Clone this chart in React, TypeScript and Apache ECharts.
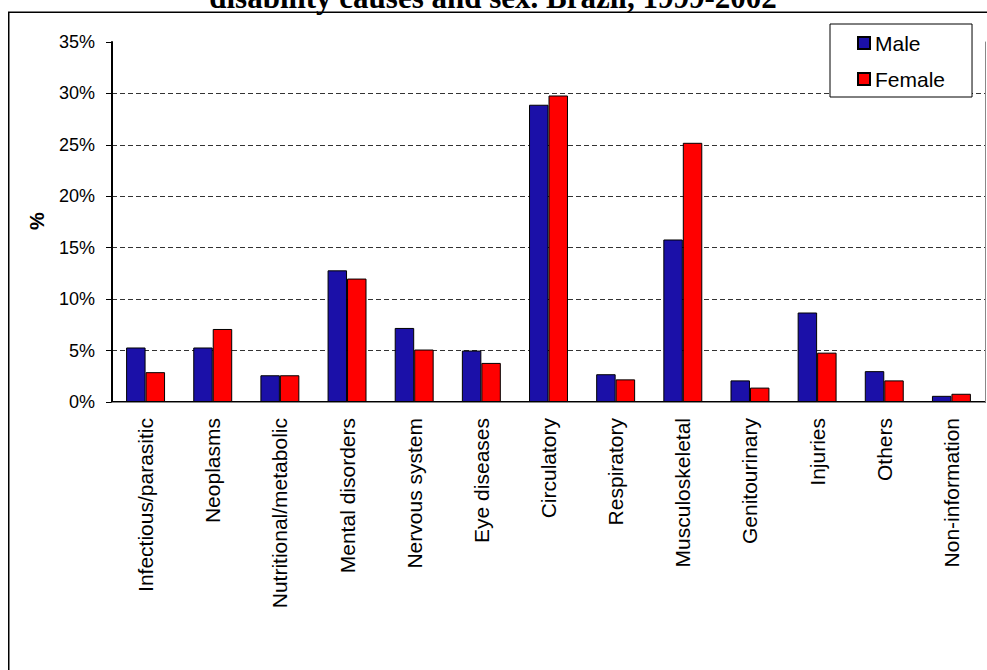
import React, { useEffect, useRef } from "react";
import * as echarts from "echarts";

const categories = [
  "Infectious/parasitic",
  "Neoplasms",
  "Nutritional/metabolic",
  "Mental disorders",
  "Nervous system",
  "Eye diseases",
  "Circulatory",
  "Respiratory",
  "Musculoskeletal",
  "Genitourinary",
  "Injuries",
  "Others",
  "Non-information",
];
const maleValues = [5.3, 5.3, 2.6, 12.8, 7.2, 5.0, 28.9, 2.7, 15.8, 2.1, 8.7, 3.0, 0.6];
const femaleValues = [2.9, 7.1, 2.6, 12.0, 5.1, 3.8, 29.8, 2.2, 25.2, 1.4, 4.8, 2.1, 0.8];
const seriesNames = ["Male", "Female"];
const titleText = "disability causes and sex. Brazil, 1999-2002";
const yAxisTitle = "%";
const yMin = 0;
const yMax = 35;
const yInterval = 5;

const SANS = "'Liberation Sans', Arial, sans-serif";
const SERIF = "'Liberation Serif', 'Times New Roman', serif";

export default function App() {
  const ref = useRef<HTMLDivElement>(null);

  useEffect(() => {
    if (!ref.current) return;
    const chart = echarts.init(ref.current, undefined, { renderer: "svg" });
    chart.setOption({
      animation: false,
      backgroundColor: "#fff",
      graphic: [
        {
          type: "rect",
          z: -10,
          shape: { x: 8.75, y: 12.25, width: 2000, height: 2000 },
          style: { fill: "none", stroke: "#000", lineWidth: 1.5 },
        },
        {
          type: "text",
          x: 493,
          y: -2.5,
          style: {
            text: titleText,
            font: `bold 31px ${SERIF}`,
            fill: "#000",
            align: "center",
            verticalAlign: "middle",
          },
        },
        {
          type: "text",
          x: 37,
          y: 221,
          rotation: Math.PI / 2,
          style: {
            text: yAxisTitle,
            font: `bold 20px ${SANS}`,
            fill: "#000",
            align: "center",
            verticalAlign: "middle",
          },
        },
      ],
      legend: {
        data: seriesNames,
        orient: "vertical",
        left: 830,
        top: 24,
        padding: [8, 27, 7, 27],
        itemGap: 14,
        itemWidth: 12,
        itemHeight: 12,
        icon: "rect",
        borderColor: "#000",
        borderWidth: 1,
        backgroundColor: "#fff",
        z: 10,
        textStyle: { fontSize: 21, fontFamily: SANS, color: "#000", lineHeight: 22 },
      },
      grid: { left: 112, top: 42, right: 2, bottom: 268, containLabel: false },
      xAxis: [
        {
          type: "category",
          data: categories,
          axisLine: { lineStyle: { color: "#000", width: 2 } },
          axisTick: { show: false },
          axisLabel: {
            interval: 0,
            rotate: 90,
            margin: 16,
            fontSize: 21,
            fontFamily: SANS,
            color: "#000",
          },
        },
        {
          type: "category",
          position: "top",
          data: categories,
          z: 5,
          axisLine: { lineStyle: { color: "#888", width: 1 } },
          axisTick: { show: false },
          axisLabel: { show: false },
        },
      ],
      yAxis: [
        {
          type: "value",
          min: yMin,
          max: yMax,
          interval: yInterval,
          axisLine: { show: true, lineStyle: { color: "#000", width: 2 } },
          axisTick: { show: true, length: 6, lineStyle: { color: "#000", width: 1 } },
          axisLabel: {
            margin: 17,
            fontSize: 18,
            fontFamily: SANS,
            color: "#000",
            formatter: (v: number) => `${v}%`,
          },
          splitLine: {
            show: true,
            showMinLine: false,
            showMaxLine: false,
            lineStyle: { color: "#333", width: 1, type: [5, 3] },
          },
        },
        {
          type: "value",
          position: "right",
          min: yMin,
          max: yMax,
          interval: yInterval,
          z: 5,
          axisLine: { show: true, lineStyle: { color: "#888", width: 1 } },
          axisTick: { show: false },
          axisLabel: { show: false },
          splitLine: { show: false },
        },
      ],
      series: [
        {
          name: seriesNames[0],
          type: "bar",
          data: maleValues,
          barGap: "0%",
          barCategoryGap: "42%",
          itemStyle: { color: "#1b10a8", borderColor: "#000", borderWidth: 1 },
        },
        {
          name: seriesNames[1],
          type: "bar",
          data: femaleValues,
          barGap: "0%",
          barCategoryGap: "42%",
          itemStyle: { color: "#ff0000", borderColor: "#000", borderWidth: 1 },
        },
      ],
    });
    return () => chart.dispose();
  }, []);

  return (
    <div
      ref={ref}
      style={{ position: "absolute", left: 0, top: 0, width: 987, height: 670 }}
    />
  );
}
